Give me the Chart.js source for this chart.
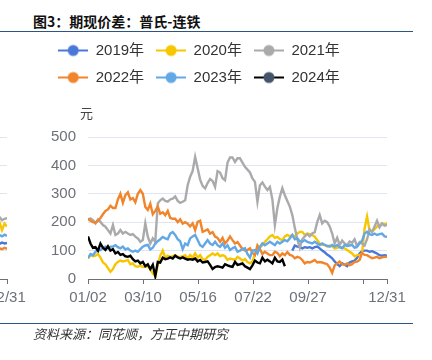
<!DOCTYPE html>
<html>
<head>
<meta charset="utf-8">
<script src="https://cdn.jsdelivr.net/npm/chart.js@4"></script>
<style>
  body { margin: 0; width: 432px; height: 360px; overflow: hidden; background: #fff; position: relative; }
  .abs { position: absolute; }
  #title { left: 33px; top: 11px; font: bold 14px "Noto Sans CJK SC", sans-serif; color: #111; white-space: nowrap; }
  .rule { left: 0; width: 413px; height: 1px; background: #2b5582; }
  #unit { left: 80px; top: 103px; font: 13px "Noto Sans CJK SC", sans-serif; color: #444; }
  #source { left: 33px; top: 324px; font: italic 13px "Noto Sans CJK SC", sans-serif; color: #333; white-space: nowrap; }
</style>
</head>
<body>
<div id="title" class="abs">图3：期现价差：普氏-连铁</div>
<div class="rule abs" style="top:31px"></div>
<canvas id="prevChart" class="abs" width="420" height="309" style="left:-380px;top:0"></canvas>
<canvas id="chart" class="abs" width="420" height="309" style="left:0;top:0"></canvas>
<div id="unit" class="abs">元</div>
<div class="rule abs" style="top:323px"></div>
<div id="source" class="abs">资料来源：同花顺，方正中期研究</div>
<script>
// x axis = day of year (0 = 01/02), one value every STEP days
const STEP = 364 / 120;
const tickDays = [0, 67, 134, 201, 268, 335, 364];
const tickLabels = ['01/02', '03/10', '05/16', '07/22', '09/27', '', '12/31'];
const years = ['2019年', '2020年', '2021年', '2022年', '2023年', '2024年'];

// 2019 only starts in September
const v2019 = Array(82).fill(null).concat([
  100, 118, 114, 112, 108, 112, 110, 112, 108, 112, 114, 108, 100, 94, 86, 80, 73, 62, 52, 45,
  55, 50, 45, 58, 62, 65, 75, 90, 98, 100, 100, 96, 98, 94, 90, 84, 82, 84, 82]);
const v2020 = [
  73, 84, 80, 82, 88, 75, 58, 52, 38, 25, 35, 52, 60, 65, 62, 64, 67, 52, 55, 45,
  43, 47, 42, 44, 45, 34, 20, 10, 49, 82, 100, 75, 82, 78, 80, 84, 78, 78, 80, 84,
  73, 84, 75, 90, 75, 84, 70, 67, 78, 84, 90, 84, 90, 80, 84, 80, 67, 72, 70, 67,
  78, 72, 65, 70, 60, 55, 62, 88, 100, 110, 120, 131, 140, 150, 155, 145, 148, 140, 137, 150,
  155, 150, 155, 149, 160, 166, 166, 155, 160, 158, 155, 149, 137, 125, 120, 120, 115, 118, 115, 108,
  110, 113, 110, 108, 102, 96, 90, 80, 84, 84, 90, 178, 220, 170, 166, 175, 185, 188, 196, 190, 198];
const v2021 = [
  207, 213, 207, 196, 210, 201, 190, 184, 172, 160, 190, 155, 160, 172, 160, 166, 160, 155, 158, 149,
  143, 131, 137, 196, 149, 125, 143, 131, 266, 277, 283, 275, 272, 280, 283, 291, 275, 268, 272, 277,
  330, 360, 380, 430, 390, 350, 328, 319, 338, 352, 345, 324, 380, 375, 355, 348, 410, 428, 428, 412,
  425, 425, 410, 395, 385, 375, 354, 342, 272, 330, 340, 325, 313, 324, 280, 190, 250, 290, 320, 295,
  275, 255, 225, 180, 140, 110, 140, 150, 158, 150, 160, 165, 200, 225, 196, 205, 200, 185, 160, 125,
  145, 120, 135, 125, 118, 132, 128, 140, 115, 130, 125, 118, 140, 175, 165, 185, 205, 182, 195, 188, 190];
const v2022 = [
  213, 205, 200, 198, 205, 215, 228, 240, 245, 258, 250, 250, 280, 300, 268, 295, 305, 280, 285, 270,
  300, 313, 300, 254, 243, 265, 228, 240, 255, 230, 235, 225, 240, 215, 212, 212, 200, 210, 195, 200,
  195, 185, 196, 172, 201, 205, 166, 170, 175, 160, 165, 149, 145, 131, 145, 125, 135, 150, 137, 125,
  130, 118, 105, 100, 102, 108, 92, 84, 118, 105, 88, 96, 90, 84, 84, 96, 92, 80, 90, 84,
  95, 85, 82, 73, 78, 75, 67, 55, 60, 58, 62, 67, 58, 60, 58, 55, 52, 40, 22, 48,
  55, 61, 52, 50, 55, 49, 52, 60, 61, 67, 92, 85, 84, 78, 73, 75, 78, 73, 76, 78, 78];
const v2023 = [
  73, 88, 84, 96, 100, 102, 110, 114, 108, 114, 114, 119, 112, 108, 114, 104, 108, 100, 96, 100,
  96, 105, 114, 118, 120, 104, 110, 125, 133, 140, 148, 143, 140, 160, 165, 155, 140, 133, 105, 125,
  119, 143, 150, 155, 137, 119, 113, 125, 137, 125, 120, 131, 119, 113, 125, 110, 119, 102, 108, 113,
  96, 100, 105, 108, 88, 75, 100, 102, 90, 113, 125, 119, 125, 131, 125, 119, 131, 125, 131, 137,
  133, 143, 155, 140, 143, 133, 131, 137, 131, 128, 125, 131, 125, 120, 125, 120, 117, 114, 120, 114,
  120, 112, 108, 120, 116, 118, 120, 110, 114, 125, 135, 160, 166, 158, 155, 160, 155, 158, 160, 150, 149];
const v2024 = [
  150, 125, 110, 112, 100, 125, 110, 102, 115, 100, 105, 90, 95, 85, 88, 80, 78, 82, 70, 62,
  65, 55, 60, 45, 52, 35, 50, 10, 60, 58, 75, 70, 72, 76, 72, 82, 76, 72, 76, 72,
  68, 70, 68, 72, 62, 67, 58, 60, 62, 50, 35, 42, 45, 43, 40, 52, 48, 45, 43, 60,
  50, 52, 55, 45, 40, 35, 48, 65, 58, 55, 75, 62, 68, 62, 55, 75, 62, 60, 68, 45];

// tail of the previous chart, cut off at the left edge
const prevStart = 114;
const prev2019 = [126, 122, 130, 124, 128, 125, 127];
const prev2020 = [170, 190, 168, 200, 172, 195, 185];
const prev2021 = [205, 215, 200, 218, 207, 212, 214];
const prev2022 = [104, 110, 102, 108, 105, 110, 106];
const prev2023 = [150, 158, 146, 155, 150, 156, 152];

const colors = ['#4A78D8', '#F7C600', '#AAAAAA', '#F0852C', '#62A8E5', '#000000'];
const dotColors = ['#4A78D8', '#F7C600', '#AAAAAA', '#F0852C', '#62A8E5', '#44546A'];
const FONT = '"Liberation Sans", "Noto Sans CJK SC", sans-serif';
Chart.defaults.font.family = FONT;

function marker(line, dot) {
  const c = document.createElement('canvas');
  c.width = 30; c.height = 14;
  const g = c.getContext('2d');
  g.strokeStyle = line; g.lineWidth = 2;
  g.beginPath(); g.moveTo(0, 7); g.lineTo(30, 7); g.stroke();
  g.fillStyle = dot;
  g.beginPath(); g.arc(15, 7, 5.5, 0, Math.PI * 2); g.fill();
  return c;
}

function points(vals, start) {
  return vals.map((v, i) => ({ x: (start + i) * STEP, y: v }));
}

function dataset(k, vals, start) {
  return {
    label: years[k],
    data: points(vals, start || 0),
    borderColor: colors[k],
    borderWidth: 2.4,
    pointRadius: 0,
    pointStyle: marker(colors[k], dotColors[k]),
    tension: 0
  };
}

// extra room between the legend and the plot (for the 元 label)
const legendGap = {
  id: 'legendGap',
  beforeInit(chart) {
    const fit = chart.legend.fit;
    chart.legend.fit = function () { fit.call(this); this.height += 42; };
  }
};

function makeChart(id, datasets) {
  return new Chart(document.getElementById(id), {
    type: 'line',
    data: { datasets: datasets },
    options: {
      responsive: false,
      animation: false,
      layout: { padding: { top: 31, right: 22, bottom: 0, left: 0 } },
      plugins: {
        legend: {
          reverse: true,
          labels: { usePointStyle: true, pointStyleWidth: 30, padding: 12, color: '#333', font: { size: 15 } }
        },
        tooltip: { enabled: false }
      },
      scales: {
        x: {
          type: 'linear', min: 0, max: 364,
          afterBuildTicks: s => { s.ticks = tickDays.map(v => ({ value: v })); },
          afterFit: s => { s.height = 30; },
          grid: { drawOnChartArea: false, drawTicks: true, tickLength: 5, tickColor: '#6E7079' },
          border: { display: true, color: '#6E7079' },
          ticks: { autoSkip: false, maxRotation: 0, padding: 5, color: '#6E7079', font: { size: 15 },
            callback: (v, i) => tickLabels[i] }
        },
        y: {
          min: 0, max: 500,
          afterFit: s => { s.width = 88; },
          grid: { color: '#E0E6F1', drawTicks: false },
          border: { display: false },
          ticks: { stepSize: 100, padding: 12, color: '#6E7079', font: { size: 15 } }
        },
        yR: {
          position: 'right',
          afterFit: s => { s.width = 11; },
          grid: { display: false },
          border: { display: false },
          ticks: { display: false }
        }
      }
    },
    plugins: [legendGap]
  });
}

// 2024 first so it is drawn on top; legend reversed back to 2019..2024
makeChart('chart', [
  dataset(5, v2024), dataset(4, v2023), dataset(3, v2022),
  dataset(2, v2021), dataset(1, v2020), dataset(0, v2019)
]);

makeChart('prevChart', [
  dataset(4, prev2023, prevStart), dataset(3, prev2022, prevStart),
  dataset(2, prev2021, prevStart), dataset(1, prev2020, prevStart), dataset(0, prev2019, prevStart)
]);
</script>
</body>
</html>
